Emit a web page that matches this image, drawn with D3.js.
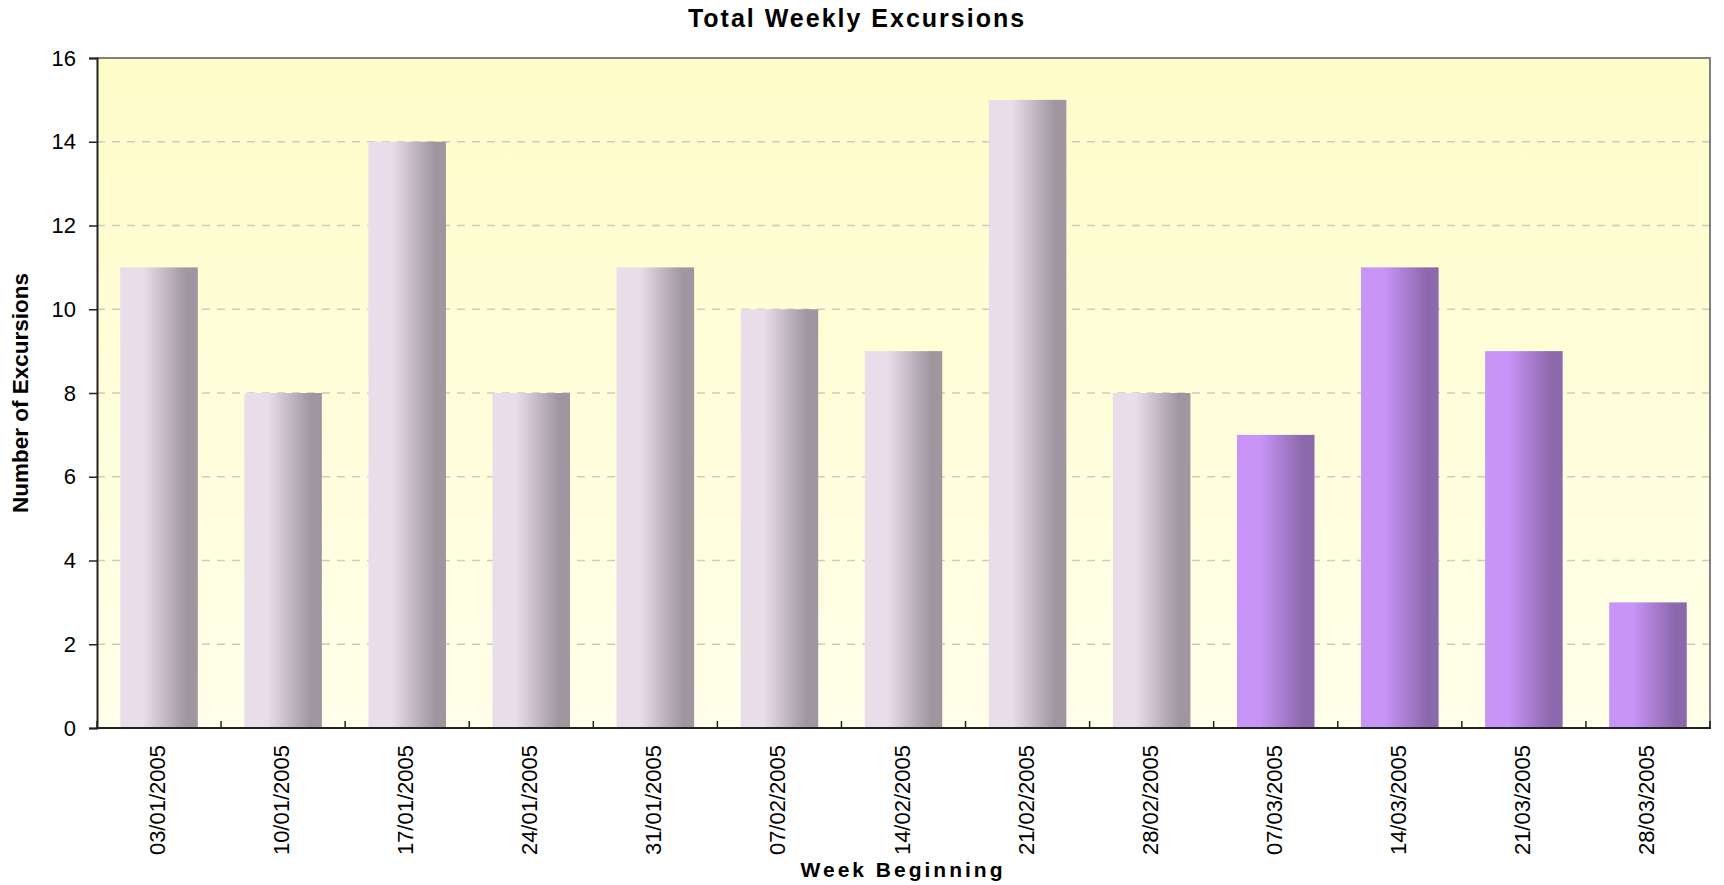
<!DOCTYPE html>
<html>
<head>
<meta charset="utf-8">
<script src="https://cdn.jsdelivr.net/npm/d3@7"></script>
<style>
  body { margin: 0; background: #fff; }
  svg { display: block; font-family: Arial, "Liberation Sans", sans-serif; }
</style>
</head>
<body>
<div id="chart"></div>
<script>
const weeks = ["03/01/2005", "10/01/2005", "17/01/2005", "24/01/2005", "31/01/2005", "07/02/2005",
    "14/02/2005", "21/02/2005", "28/02/2005", "07/03/2005", "14/03/2005", "21/03/2005", "28/03/2005"];
const excursions = [11, 8, 14, 8, 11, 10, 9, 15, 8, 7, 11, 9, 3];
const marchWeeks = ["07/03/2005", "14/03/2005", "21/03/2005", "28/03/2005"];
const yTicks = [0, 2, 4, 6, 8, 10, 12, 14, 16];

const width = 1724;
const height = 885;
const margin = { top: 58, right: 14, bottom: 157, left: 97 };

const svg = d3.select("#chart")
    .append("svg")
    .attr("width", width)
    .attr("height", height);

const defs = svg.append("defs");

// plot background, yellow fading down
const bg = defs.append("linearGradient")
    .attr("id", "bg").attr("x1", 0).attr("y1", 0).attr("x2", 0).attr("y2", 1);
bg.append("stop").attr("offset", "0%").attr("stop-color", "#fefcc8");
bg.append("stop").attr("offset", "100%").attr("stop-color", "#ffffea");

const makeBarGradient = (id, light, dark) => {
    const g = defs.append("linearGradient")
        .attr("id", id).attr("x1", 0).attr("y1", 0).attr("x2", 1).attr("y2", 0);
    g.append("stop").attr("offset", "0%").attr("stop-color", light);
    g.append("stop").attr("offset", "30%").attr("stop-color", light);
    g.append("stop").attr("offset", "85%").attr("stop-color", dark);
    g.append("stop").attr("offset", "100%").attr("stop-color", dark);
};
makeBarGradient("greyBar", "#e8dde8", "#a096a0");
makeBarGradient("purpleBar", "#c894f8", "#8c68ac");

const x = d3.scaleBand()
    .domain(weeks)
    .range([margin.left, width - margin.right])
    .paddingInner(0.375)
    .paddingOuter(0.1875);

const y = d3.scaleLinear()
    .domain([0, 16])
    .range([height - margin.bottom, margin.top]);

const x0 = margin.left, x1 = width - margin.right;
const yTop = y(16), yBottom = y(0);

svg.append("rect")
    .attr("x", x0).attr("y", yTop)
    .attr("width", x1 - x0).attr("height", yBottom - yTop)
    .attr("fill", "url(#bg)");

// dashed gridlines
svg.append("g")
    .selectAll("line")
    .data(yTicks.filter(d => d > 0 && d < 16))
    .join("line")
    .attr("x1", x0).attr("x2", x1)
    .attr("y1", d => y(d)).attr("y2", d => y(d))
    .attr("stroke", "#cbcbc4")
    .attr("stroke-width", 1.3)
    .attr("stroke-dasharray", "8,7");

// top & right frame
svg.append("path")
    .attr("d", `M${x0},${yTop}H${x1}V${yBottom}`)
    .attr("fill", "none")
    .attr("stroke", "#808080")
    .attr("stroke-width", 2);

// bars
svg.append("g")
    .selectAll("rect")
    .data(weeks.map((w, i) => ({ week: w, value: excursions[i] })))
    .join("rect")
    .attr("x", d => x(d.week))
    .attr("width", x.bandwidth())
    .attr("y", d => y(d.value))
    .attr("height", d => y(0) - y(d.value))
    .attr("fill", d => marchWeeks.includes(d.week) ? "url(#purpleBar)" : "url(#greyBar)");

// y axis
const yAxis = svg.append("g")
    .attr("transform", `translate(${x0},0)`)
    .call(d3.axisLeft(y).tickValues(yTicks).tickSize(8).tickPadding(13).tickFormat(d3.format("d")));
yAxis.select(".domain").attr("stroke", "#222").attr("stroke-width", 2);
yAxis.selectAll(".tick line").attr("stroke", "#222").attr("stroke-width", 1.5);
yAxis.selectAll(".tick text")
    .attr("font-size", 22)
    .attr("font-family", "Arial, 'Liberation Sans', sans-serif")
    .attr("fill", "#000");

// x axis: inward ticks at category boundaries
const step = x.step();
const boundaries = d3.range(weeks.length + 1).map(i => x0 + i * step);
svg.append("line")
    .attr("x1", x0).attr("x2", x1 + 1)
    .attr("y1", yBottom).attr("y2", yBottom)
    .attr("stroke", "#222").attr("stroke-width", 2);
svg.append("g")
    .selectAll("line")
    .data(boundaries)
    .join("line")
    .attr("x1", d => d).attr("x2", d => d)
    .attr("y1", yBottom).attr("y2", yBottom - 7)
    .attr("stroke", "#222").attr("stroke-width", 1.5);

svg.append("g")
    .selectAll("text")
    .data(weeks)
    .join("text")
    .attr("transform", d => `translate(${x(d) + x.bandwidth() / 2 + 6},${yBottom + 17}) rotate(-90)`)
    .attr("text-anchor", "end")
    .attr("font-size", 22)
    .attr("fill", "#000")
    .text(d => d);

// titles
svg.append("text")
    .attr("x", 857).attr("y", 27)
    .attr("text-anchor", "middle")
    .attr("font-size", 25)
    .attr("font-weight", "bold")
    .attr("letter-spacing", 2)
    .text("Total Weekly Excursions");

svg.append("text")
    .attr("x", 903).attr("y", 877)
    .attr("text-anchor", "middle")
    .attr("font-size", 21)
    .attr("font-weight", "bold")
    .attr("letter-spacing", 3)
    .text("Week Beginning");

svg.append("text")
    .attr("transform", `translate(28,${(yTop + yBottom) / 2}) rotate(-90)`)
    .attr("text-anchor", "middle")
    .attr("font-size", 22.5)
    .attr("font-weight", "bold")
    .text("Number of Excursions");
</script>
</body>
</html>
